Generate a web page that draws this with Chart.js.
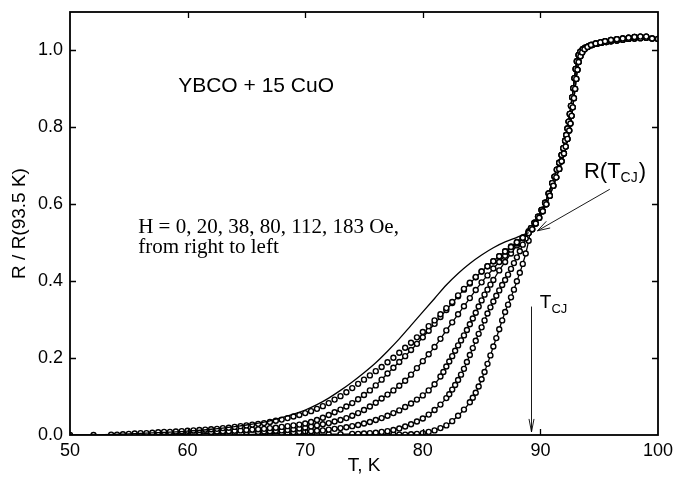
<!DOCTYPE html>
<html>
<head>
<meta charset="utf-8">
<script src="https://cdn.jsdelivr.net/npm/chart.js@4.4.0/dist/chart.umd.min.js"></script>
<style>
html, body { margin: 0; padding: 0; background: #fff; }
#wrap { width: 673px; height: 483px; position: relative; }
</style>
</head>
<body>
<div id="wrap"><canvas id="chart"></canvas></div>
<script>
// R / R(93.5 K) against T (K), one [T, R] list per field
const h0 = [[74,0],[75,0],[76,0],[77,0],[77.5,0.001],[78,0.001],[78.5,0.001],[79,0.002],[79.5,0.003],[80,0.005],[80.5,0.008],[81,0.012],[81.5,0.018],[82,0.025],[82.5,0.036],[83,0.050],[83.5,0.066],[84,0.085],[84.25,0.097],[84.5,0.110],[84.75,0.126],[85,0.145],[85.25,0.164],[85.5,0.185],[85.75,0.207],[86,0.230],[86.25,0.252],[86.5,0.275],[86.75,0.298],[87,0.320],[87.25,0.339],[87.5,0.358],[87.75,0.378],[88,0.400],[88.25,0.422],[88.5,0.445],[88.75,0.472],[89,0.505]];

const h20 = [[68,0],[69,0.001],[70,0.001],[71,0.002],[72,0.002],[73,0.002],[74,0.003],[74.5,0.003],[75,0.004],[75.5,0.005],[76,0.006],[76.5,0.008],[77,0.010],[77.5,0.013],[78,0.017],[78.5,0.022],[79,0.028],[79.5,0.035],[80,0.043],[80.5,0.053],[81,0.065],[81.5,0.079],[82,0.096],[82.25,0.106],[82.5,0.118],[82.75,0.130],[83,0.143],[83.25,0.157],[83.5,0.172],[83.75,0.190],[84,0.208],[84.25,0.226],[84.5,0.245],[84.75,0.263],[85,0.280],[85.25,0.298],[85.5,0.316],[85.75,0.332],[86,0.347],[86.25,0.362],[86.5,0.376],[86.75,0.390],[87,0.403],[87.25,0.417],[87.5,0.432],[87.75,0.447],[88,0.462],[88.25,0.478],[88.5,0.495],[88.75,0.511],[89,0.528]];

const h38 = [[64,0],[65,0.001],[66,0.002],[67,0.003],[68,0.005],[68.5,0.006],[69,0.007],[69.5,0.008],[70,0.009],[70.5,0.010],[71,0.011],[71.5,0.012],[72,0.014],[72.5,0.016],[73,0.018],[73.5,0.020],[74,0.023],[74.5,0.026],[75,0.030],[75.5,0.034],[76,0.039],[76.5,0.044],[77,0.050],[77.5,0.057],[78,0.064],[78.5,0.073],[79,0.082],[79.5,0.092],[80,0.103],[80.5,0.116],[81,0.132],[81.5,0.152],[81.75,0.164],[82,0.178],[82.25,0.191],[82.5,0.205],[82.75,0.219],[83,0.233],[83.25,0.246],[83.5,0.259],[83.75,0.273],[84,0.288],[84.25,0.303],[84.5,0.318],[84.75,0.334],[85,0.350],[85.25,0.365],[85.5,0.378],[85.75,0.391],[86,0.403],[86.5,0.428],[87,0.450],[87.5,0.472],[88,0.493],[88.5,0.512],[89,0.530]];

const h80 = [[58,0],[59,0.001],[60,0.002],[61,0.003],[62,0.004],[63,0.005],[64,0.006],[65,0.007],[66,0.008],[66.5,0.009],[67,0.010],[67.5,0.011],[68,0.012],[68.5,0.013],[69,0.015],[69.5,0.017],[70,0.019],[70.5,0.022],[71,0.025],[71.5,0.028],[72,0.031],[72.5,0.035],[73,0.039],[73.5,0.044],[74,0.050],[74.5,0.057],[75,0.065],[75.5,0.074],[76,0.084],[76.5,0.095],[77,0.105],[77.5,0.116],[78,0.128],[78.5,0.141],[79,0.157],[79.5,0.174],[80,0.192],[80.5,0.210],[81,0.229],[81.5,0.250],[82,0.272],[82.5,0.293],[83,0.314],[83.5,0.335],[84,0.356],[84.5,0.377],[85,0.397],[85.5,0.415],[86,0.433],[86.5,0.450],[87,0.466],[87.5,0.482],[88,0.498],[88.5,0.512],[89,0.527]];

const h112 = [[56,0.002],[57,0.003],[58,0.004],[59,0.005],[60,0.006],[61,0.007],[62,0.008],[62.5,0.009],[63,0.010],[63.5,0.010],[64,0.011],[64.5,0.012],[65,0.013],[65.5,0.014],[66,0.015],[66.5,0.016],[67,0.018],[67.5,0.019],[68,0.021],[68.5,0.023],[69,0.025],[69.5,0.027],[70,0.030],[70.5,0.034],[71,0.039],[71.5,0.045],[72,0.052],[72.5,0.059],[73,0.066],[73.5,0.074],[74,0.083],[74.5,0.093],[75,0.104],[75.5,0.116],[76,0.129],[76.5,0.144],[77,0.160],[77.5,0.175],[78,0.190],[78.5,0.205],[79,0.221],[79.5,0.237],[80,0.254],[80.5,0.271],[81,0.289],[81.5,0.307],[82,0.325],[82.5,0.343],[83,0.361],[83.5,0.378],[84,0.394],[84.5,0.410],[85,0.425],[85.5,0.439],[86,0.452],[86.5,0.465],[87,0.478],[87.5,0.490],[88,0.502],[88.5,0.514],[89,0.526]];

const h183 = [[50,0],[52,0],[53.5,0.001],[54,0.001],[54.5,0.002],[55,0.003],[55.5,0.004],[56,0.005],[56.5,0.005],[57,0.006],[57.5,0.007],[58,0.008],[58.5,0.008],[59,0.009],[59.5,0.010],[60,0.011],[60.5,0.012],[61,0.013],[61.5,0.014],[62,0.015],[62.5,0.016],[63,0.018],[63.5,0.019],[64,0.021],[64.5,0.023],[65,0.025],[65.5,0.027],[66,0.029],[66.5,0.031],[67,0.034],[67.5,0.037],[68,0.040],[68.5,0.044],[69,0.048],[69.5,0.052],[70,0.057],[70.5,0.062],[71,0.068],[71.5,0.075],[72,0.083],[72.5,0.092],[73,0.101],[73.5,0.111],[74,0.122],[74.5,0.133],[75,0.144],[75.5,0.155],[76,0.166],[76.5,0.177],[77,0.189],[77.5,0.201],[78,0.214],[78.5,0.227],[79,0.240],[79.5,0.254],[80,0.268],[80.5,0.283],[81,0.298],[81.5,0.314],[82,0.330],[82.5,0.346],[83,0.363],[83.5,0.380],[84,0.396],[84.5,0.411],[85,0.425],[85.5,0.439],[86,0.452],[86.5,0.465],[87,0.477],[87.5,0.489],[88,0.501],[88.5,0.513],[89,0.525]];

// solid fit curve for 183 Oe (runs above its points)
const fit183 = [[50,0],[52,0],[55,0.003],[58,0.007],[60,0.010],[62,0.015],[63,0.018],[64,0.022],[65,0.026],[66,0.031],[67,0.037],[68,0.045],[69,0.054],[70,0.065],[71,0.079],[72,0.096],[73,0.116],[74,0.138],[75,0.162],[76,0.188],[77,0.218],[78,0.250],[79,0.285],[80,0.320],[81,0.355],[82,0.390],[83,0.420],[84,0.446],[85,0.468],[86,0.487],[87,0.502],[88,0.514],[89,0.526]];

// common branch above T_CJ (two slightly offset runs)
const upperA = [[89.2,0.538],[89.5,0.552],[89.8,0.568],[90.1,0.585],[90.4,0.604],[90.7,0.628],[91.0,0.655],[91.2,0.672],[91.4,0.690],[91.6,0.708],[91.8,0.728],[91.95,0.746],[92.1,0.765],[92.2,0.780],[92.3,0.797],[92.4,0.815],[92.5,0.835],[92.6,0.856],[92.7,0.878],[92.8,0.902],[92.9,0.928],[93.0,0.952],[93.1,0.972],[93.25,0.988],[93.4,0.997],[93.6,1.003],[93.8,1.007],[94.1,1.011],[94.4,1.014],[94.8,1.017],[95.2,1.020],[95.6,1.022],[96.0,1.024],[96.5,1.026],[97.0,1.028],[97.5,1.030],[98.0,1.031],[98.5,1.032],[99.0,1.033],[99.5,1.031],[100,1.030]];

const upperB = [[89.3,0.535],[89.6,0.550],[89.9,0.565],[90.2,0.582],[90.5,0.600],[90.8,0.622],[91.1,0.648],[91.35,0.670],[91.6,0.692],[91.8,0.712],[92.0,0.732],[92.15,0.750],[92.3,0.770],[92.45,0.792],[92.55,0.810],[92.65,0.830],[92.75,0.852],[92.85,0.876],[92.95,0.900],[93.05,0.926],[93.15,0.950],[93.25,0.970],[93.4,0.985],[93.55,0.995],[93.75,1.003],[94.0,1.009],[94.3,1.014],[94.7,1.018],[95.1,1.021],[95.5,1.024],[96.0,1.027],[96.5,1.029],[97.0,1.031],[97.5,1.033],[98.0,1.035],[98.5,1.036],[99.0,1.036]];

const xTicks = [50, 60, 70, 80, 90, 100];
const yTicks = [0, 0.2, 0.4, 0.6, 0.8, 1.0];

const toXY = arr => arr.map(p => ({ x: p[0], y: p[1] }));

function curve(label, pts, showLine) {
    return {
        label: label,
        data: toXY(pts),
        showLine: showLine,
        borderColor: '#000',
        borderWidth: 1.3,
        pointRadius: 2.5,
        pointBorderWidth: 1.4,
        pointBorderColor: '#000',
        pointBackgroundColor: '#fff',
        cubicInterpolationMode: 'monotone',
    };
}

// frame, inward ticks and the text/arrows inside the plot
const notes = {
    id: 'notes',
    afterDraw(chart) {
        const { ctx, chartArea: a, scales: { x, y } } = chart;
        ctx.save();
        ctx.strokeStyle = '#000';
        ctx.fillStyle = '#000';
        ctx.lineWidth = 1.8;
        ctx.strokeRect(a.left, a.top, a.right - a.left, a.bottom - a.top);

        ctx.lineWidth = 1.3;
        ctx.beginPath();
        xTicks.slice(1, -1).forEach(v => {
            const px = Math.round(x.getPixelForValue(v)) + 0.5;
            ctx.moveTo(px, a.bottom); ctx.lineTo(px, a.bottom - 6);
            ctx.moveTo(px, a.top); ctx.lineTo(px, a.top + 6);
        });
        yTicks.slice(1).forEach(v => {
            const py = Math.round(y.getPixelForValue(v)) + 0.5;
            ctx.moveTo(a.left, py); ctx.lineTo(a.left + 6, py);
            ctx.moveTo(a.right, py); ctx.lineTo(a.right - 6, py);
        });
        ctx.stroke();

        const X = v => x.getPixelForValue(v);
        const Y = v => y.getPixelForValue(v);
        const sans = '"Liberation Sans", Arial, sans-serif';
        const serif = '"Liberation Serif", "Times New Roman", serif';
        ctx.textBaseline = 'alphabetic';
        ctx.textAlign = 'left';

        ctx.font = '21px ' + sans;
        ctx.fillText('YBCO + 15 CuO', X(59.2), Y(0.891));

        ctx.font = '21px ' + serif;
        ctx.fillText('H = 0, 20, 38, 80, 112, 183 Oe,', X(55.8), Y(0.526));
        ctx.fillText('from right to left', X(55.8), Y(0.474));

        // R(T_CJ) label with arrow to the crossing point
        let tx = X(93.7), ty = Y(0.669);
        ctx.font = '22px ' + sans;
        ctx.fillText('R(T', tx, ty);
        tx += ctx.measureText('R(T').width;
        ctx.font = '14px ' + sans;
        ctx.fillText('CJ', tx, ty + 4);
        tx += ctx.measureText('CJ').width + 1;
        ctx.font = '22px ' + sans;
        ctx.fillText(')', tx, ty);

        ctx.lineWidth = 0.9;
        const x0 = X(95.9), y0 = Y(0.639), x1 = X(89.75), y1 = Y(0.531);
        const ang = Math.atan2(y1 - y0, x1 - x0);
        ctx.beginPath();
        ctx.moveTo(x0, y0); ctx.lineTo(x1, y1);
        ctx.moveTo(x1 - 13 * Math.cos(ang - 0.3), y1 - 13 * Math.sin(ang - 0.3));
        ctx.lineTo(x1, y1);
        ctx.lineTo(x1 - 13 * Math.cos(ang + 0.3), y1 - 13 * Math.sin(ang + 0.3));
        ctx.stroke();

        // T_CJ with the vertical arrow
        tx = X(89.95); ty = Y(0.331);
        ctx.font = '19px ' + sans;
        ctx.fillText('T', tx, ty);
        tx += ctx.measureText('T').width;
        ctx.font = '13px ' + sans;
        ctx.fillText('CJ', tx, ty + 5);

        const vx = Math.round(X(89.2)) + 0.5;
        const vb = Y(0.008);
        ctx.beginPath();
        ctx.moveTo(vx, Y(0.334)); ctx.lineTo(vx, vb);
        ctx.moveTo(vx - 2.5, vb - 13); ctx.lineTo(vx, vb); ctx.lineTo(vx + 2.5, vb - 13);
        ctx.stroke();
        ctx.restore();
    }
};

Chart.defaults.font.family = '"Liberation Sans", Arial, sans-serif';
Chart.defaults.font.size = 18;
Chart.defaults.color = '#000';

new Chart(document.getElementById('chart'), {
    type: 'scatter',
    data: {
        datasets: [
            Object.assign(curve('183 Oe fit', fit183, true), { pointRadius: 0 }),
            curve('183 Oe', h183.concat(upperB), false),
            curve('112 Oe', h112.concat(upperA), true),
            curve('80 Oe', h80.concat(upperB), true),
            curve('38 Oe', h38.concat(upperA), true),
            curve('20 Oe', h20.concat(upperB), true),
            curve('0 Oe', h0.concat(upperA), true),
        ],
    },
    options: {
        responsive: true,
        maintainAspectRatio: false,
        animation: false,
        layout: { padding: { top: 12, right: 15, left: 0, bottom: 0 } },
        plugins: { legend: { display: false }, tooltip: { enabled: false } },
        scales: {
            x: {
                type: 'linear',
                min: 50,
                max: 100,
                afterBuildTicks: s => { s.ticks = xTicks.map(v => ({ value: v })); },
                afterFit: s => { s.height = 48; s.paddingLeft = 0; s.paddingRight = 0; },
                grid: { display: false, drawTicks: false },
                border: { display: false },
                ticks: { padding: 5, maxRotation: 0 },
                title: { display: true, text: 'T, K', font: { size: 19 }, padding: { top: 0, bottom: 6 } },
            },
            y: {
                type: 'linear',
                min: 0,
                max: 1.1,
                afterBuildTicks: s => { s.ticks = yTicks.map(v => ({ value: v })); },
                afterFit: s => { s.width = 70; s.paddingTop = 0; s.paddingBottom = 0; },
                grid: { display: false, drawTicks: false },
                border: { display: false },
                ticks: { padding: 7, callback: v => v.toFixed(1) },
                title: { display: true, text: 'R / R(93.5 K)', font: { size: 19 }, padding: { top: 8, bottom: 0 } },
            },
        },
    },
    plugins: [notes],
});
</script>
</body>
</html>
